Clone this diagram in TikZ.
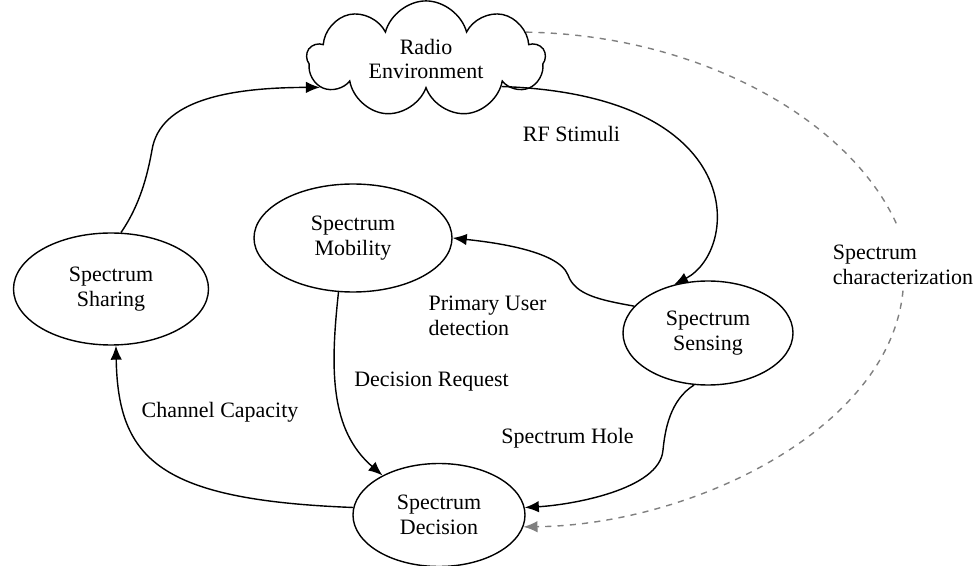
\documentclass[tikz,border=0pt]{standalone}
\usepackage{fontspec}
\setmainfont{Liberation Serif}
\usepackage{tikz}
\usetikzlibrary{arrows.meta,positioning,shapes.symbols,shapes.geometric}

\begin{document}
\begin{tikzpicture}[
    auto,
    node distance=2cm,
    >={Latex[length=8pt,width=6.5pt]},
    font=\fontsize{12.5}{14.2}\selectfont,
    phase/.style={
		ellipse,
		draw=black,
		line width=0.8pt,
		align=center,
		inner sep=0pt,
		fill=white
	},
	env/.style={
		cloud,
		cloud puffs=9,
		cloud ignores aspect,
		draw=black,
		line width=0.8pt,
		align=center,
		minimum width=4.76cm,
		minimum height=2.04cm
	},
	lbl/.style={
		align=left
	},
	flow/.style={
		->,
		line width=0.8pt
	},
	charflow/.style={
		->,
		gray,
		line width=0.8pt,
		dash pattern=on 3.5pt off 3.5pt
	}
  ]
    \useasboundingbox (0,0) rectangle (19.56,-11.32);

    % We start by placing the blocks
  \node [env] (radio) at (8.52,-1.18) {Radio\\Environment};

  \node [phase, minimum width=3.96cm, minimum height=2.16cm,
         node distance=3.58cm, below of=radio, xshift=-1.46cm] (mobility) {Spectrum\\Mobility};

  \node [phase, minimum width=3.9cm, minimum height=2.24cm,
         node distance=4.6cm, below of=radio, xshift=-6.3cm] (sharing) {Spectrum\\Sharing};

  \node [phase, minimum width=3.4cm, minimum height=2.08cm,
         node distance=5.48cm, below of=radio, xshift=5.64cm] (sensing) {Spectrum\\Sensing};

  \node [phase, minimum width=3.44cm, minimum height=2.06cm,
         node distance=9.12cm, below of=radio, xshift=0.26cm] (decision) {Spectrum\\Decision};

  % labels
  \node [lbl] (rf) at (11.43,-2.68) {RF Stimuli};
  \node [lbl] (pud) at (9.75,-6.31) {Primary User\\detection};
  \node [lbl] (dreq) at (8.63,-7.64) {Decision Request};
  \node [lbl] (hole) at (11.35,-8.76) {Spectrum Hole};
  \node [lbl] (chcap) at (4.4,-8.24) {Channel Capacity};
  \node [lbl] (charac) at (18.06,-5.29) {Spectrum\\characterization};

  % the cycle
  \draw [flow] (sharing.80) .. controls (2.8,-4.1) and (2.95,-3.5) .. (3.04,-3.0)
        .. controls (3.2,-2.0) and (4.6,-1.75) .. (radio.195);
  \draw [flow] (radio.-20) .. controls (15.0,-1.9) and (14.8,-5.0) .. (sensing.125);
  \draw [flow] (sensing.160) .. controls (12.0,-6.0) and (11.5,-5.9) .. (11.36,-5.5)
        .. controls (11.16,-5.0) and (9.8,-4.84) .. (mobility.east);
  \draw [flow] (mobility.-105) .. controls (6.6,-7.4) and (6.6,-8.6) .. (decision.145);
  \draw [flow] (sensing.-105) .. controls (13.4,-8.0) and (13.3,-8.6) .. (13.26,-9.0)
        .. controls (13.2,-9.8) and (11.4,-10.1) .. (decision.5);
  \draw [flow] (decision.175) .. controls (3.2,-10.0) and (2.36,-9.2) .. (sharing.-85);

  \draw [charflow, -, shorten >=0.3cm] (radio.15) .. controls (14.0,-0.7) and (17.0,-2.4) .. (charac.north);
  \draw [charflow] (charac.south) .. controls (17.8,-8.6) and (13.8,-10.5) .. (decision.-8);

\end{tikzpicture}
\end{document}
